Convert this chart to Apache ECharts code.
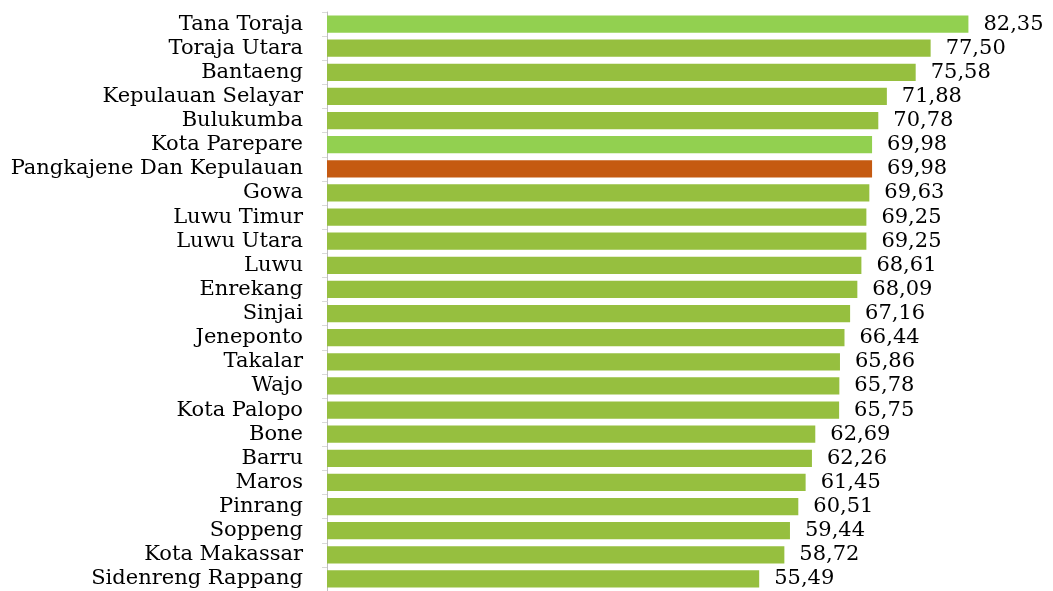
<!DOCTYPE html>
<html>
<head>
<meta charset="utf-8">
<script src="https://cdn.jsdelivr.net/npm/echarts@6/dist/echarts.min.js"></script>
<style>
  html, body { margin: 0; padding: 0; background: #fff; }
  #chart { width: 1053px; height: 591px; }
</style>
</head>
<body>
<div id="chart"></div>
<script>
// kabupaten / kota, urut dari atas ke bawah
var regions = [
  'Tana Toraja', 'Toraja Utara', 'Bantaeng', 'Kepulauan Selayar', 'Bulukumba',
  'Kota Parepare', 'Pangkajene Dan Kepulauan', 'Gowa', 'Luwu Timur', 'Luwu Utara',
  'Luwu', 'Enrekang', 'Sinjai', 'Jeneponto', 'Takalar', 'Wajo', 'Kota Palopo',
  'Bone', 'Barru', 'Maros', 'Pinrang', 'Soppeng', 'Kota Makassar', 'Sidenreng Rappang'
];
var values = [
  82.35, 77.50, 75.58, 71.88, 70.78,
  69.98, 69.98, 69.63, 69.25, 69.25,
  68.61, 68.09, 67.16, 66.44, 65.86, 65.78, 65.75,
  62.69, 62.26, 61.45, 60.51, 59.44, 58.72, 55.49
];
// kelompok warna tiap batang
var groups = [
  'light', 'normal', 'normal', 'normal', 'normal',
  'light', 'focus', 'normal', 'normal', 'normal',
  'normal', 'normal', 'normal', 'normal', 'normal', 'normal', 'normal',
  'normal', 'normal', 'normal', 'normal', 'normal', 'normal', 'normal'
];
var groupColor = { light: '#92D050', normal: '#96BF3F', focus: '#C55A11' };

var chart = echarts.init(document.getElementById('chart'));

var barData = values.map(function (v, i) {
  return { value: v, itemStyle: { color: groupColor[groups[i]] } };
});

var font = '"DejaVu Serif", serif';

chart.setOption({
  animation: false,
  grid: { left: 327, right: 25, top: 12, bottom: 0, containLabel: false },
  xAxis: {
    type: 'value',
    min: 0,
    max: 90,
    show: false
  },
  yAxis: {
    type: 'category',
    data: regions,
    inverse: true,
    axisLine: { show: true, lineStyle: { color: '#BFBFBF', width: 1 } },
    axisTick: { show: true, length: 5, lineStyle: { color: '#D9D9D9' } },
    axisLabel: { color: '#000', fontFamily: font, fontSize: 21, margin: 24, interval: 0 },
    splitLine: { show: false }
  },
  series: [{
    type: 'bar',
    data: barData,
    barWidth: '71%',
    label: {
      show: true,
      position: 'right',
      distance: 15,
      color: '#000',
      fontFamily: font,
      fontSize: 21,
      formatter: function (p) { return p.value.toFixed(2).replace('.', ','); }
    }
  }]
});
</script>
</body>
</html>
